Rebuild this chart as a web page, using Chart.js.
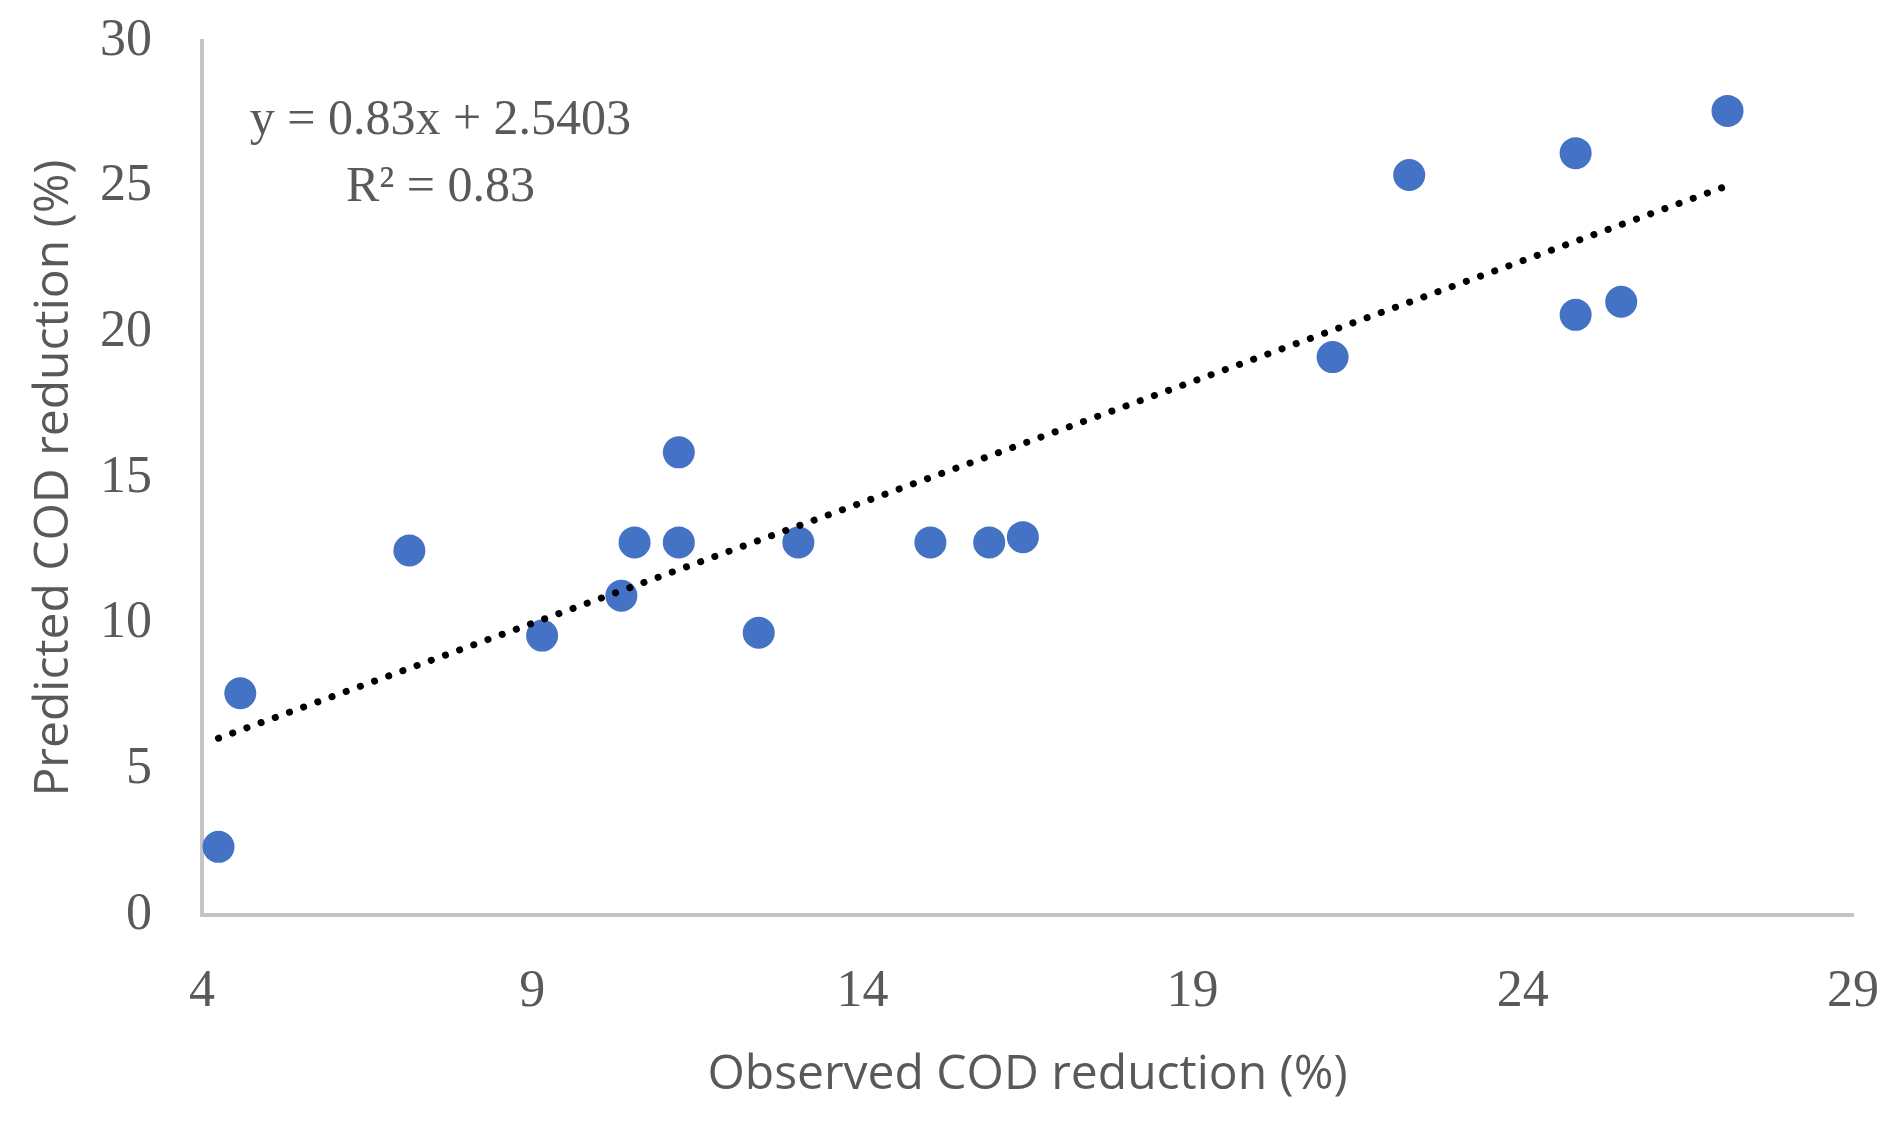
<!DOCTYPE html>
<html>
<head>
<meta charset="utf-8">
<script src="https://cdn.jsdelivr.net/npm/chart.js@4.4.1/dist/chart.umd.min.js"></script>
<style>
  html, body { margin: 0; padding: 0; background: #fff; }
  canvas { display: block; }
</style>
</head>
<body>
<canvas id="codChart" width="1892" height="1124"></canvas>
<script>
// observed vs predicted COD reduction (%)
const observed = [4.25, 4.58, 7.14, 9.15, 10.35, 10.55, 11.22, 11.22, 12.43, 13.03,
  15.03, 15.92, 16.43, 21.12, 22.28, 24.80, 24.80, 25.49, 27.10];
const predicted = [2.34, 7.61, 12.51, 9.59, 10.96, 12.79, 15.88, 12.79, 9.69, 12.79,
  12.79, 12.79, 12.97, 19.15, 25.40, 26.15, 20.60, 21.05, 27.60];

const slope = 0.83;
const intercept = 2.5403;
const eqLines = ["y = 0.83x + 2.5403", "R\u00b2 = 0.83"];

const xTicks = [4, 9, 14, 19, 24, 29];
const yTicks = [0, 5, 10, 15, 20, 25, 30];

const points = observed.map((x, i) => ({ x: x, y: predicted[i] }));
const xMin = Math.min(...observed);
const xMax = Math.max(...observed);
const trend = [xMin, xMax].map(x => ({ x: x, y: slope * x + intercept }));

const grey = "#595959";
const axisGrey = "#c4c4c4";

const equationLabel = {
  id: "equationLabel",
  afterDatasetsDraw(chart) {
    const { ctx, scales } = chart;
    const cx = scales.x.getPixelForValue(7.61);
    ctx.save();
    ctx.fillStyle = grey;
    ctx.font = "50px 'Liberation Serif'";
    ctx.textAlign = "center";
    ctx.textBaseline = "middle";
    ctx.fillText(eqLines[0], cx, scales.y.getPixelForValue(27.26));
    ctx.fillText(eqLines[1], cx, scales.y.getPixelForValue(24.96));
    ctx.restore();
  }
};

// invisible tick marks push the labels away from the axes
const hiddenGrid = len => ({
  display: true,
  drawOnChartArea: false,
  drawTicks: true,
  tickLength: len,
  color: "rgba(0,0,0,0)"
});

new Chart(document.getElementById("codChart"), {
  type: "scatter",
  data: {
    datasets: [
      {
        label: "Data",
        data: points,
        backgroundColor: "#4472c4",
        borderColor: "#4472c4",
        borderWidth: 0,
        pointRadius: 16,
        pointHoverRadius: 16,
        order: 2
      },
      {
        label: "Linear trend",
        type: "line",
        data: trend,
        borderColor: "#000",
        borderWidth: 7,
        borderDash: [0.1, 15],
        borderCapStyle: "round",
        pointRadius: 0,
        fill: false,
        order: 1
      }
    ]
  },
  options: {
    responsive: false,
    animation: false,
    devicePixelRatio: 1,
    layout: { padding: { top: 41, right: 39, left: 0, bottom: 0 } },
    plugins: {
      legend: { display: false },
      tooltip: { enabled: false }
    },
    scales: {
      x: {
        type: "linear",
        min: 4,
        max: 29,
        afterBuildTicks: s => { s.ticks = xTicks.map(v => ({ value: v })); },
        afterFit: s => { s.height = 209; },
        grid: hiddenGrid(46),
        border: { display: true, color: axisGrey, width: 4 },
        ticks: {
          padding: 0,
          color: grey,
          font: { family: "'Liberation Serif'", size: 52 }
        },
        title: {
          display: true,
          text: "Observed COD reduction (%)",
          color: grey,
          font: { family: "'Open Sans'", size: 48 },
          padding: { top: 0, bottom: 20 }
        }
      },
      y: {
        type: "linear",
        min: 0,
        max: 30,
        afterBuildTicks: s => { s.ticks = yTicks.map(v => ({ value: v })); },
        afterFit: s => { s.width = 202; },
        grid: hiddenGrid(50),
        border: { display: true, color: axisGrey, width: 4 },
        ticks: {
          padding: 0,
          color: grey,
          font: { family: "'Liberation Serif'", size: 52 }
        },
        title: {
          display: true,
          text: "Predicted COD reduction (%)",
          color: grey,
          font: { family: "'Open Sans'", size: 48 },
          padding: { top: 26, bottom: 0 }
        }
      }
    }
  },
  plugins: [equationLabel]
});
</script>
</body>
</html>
